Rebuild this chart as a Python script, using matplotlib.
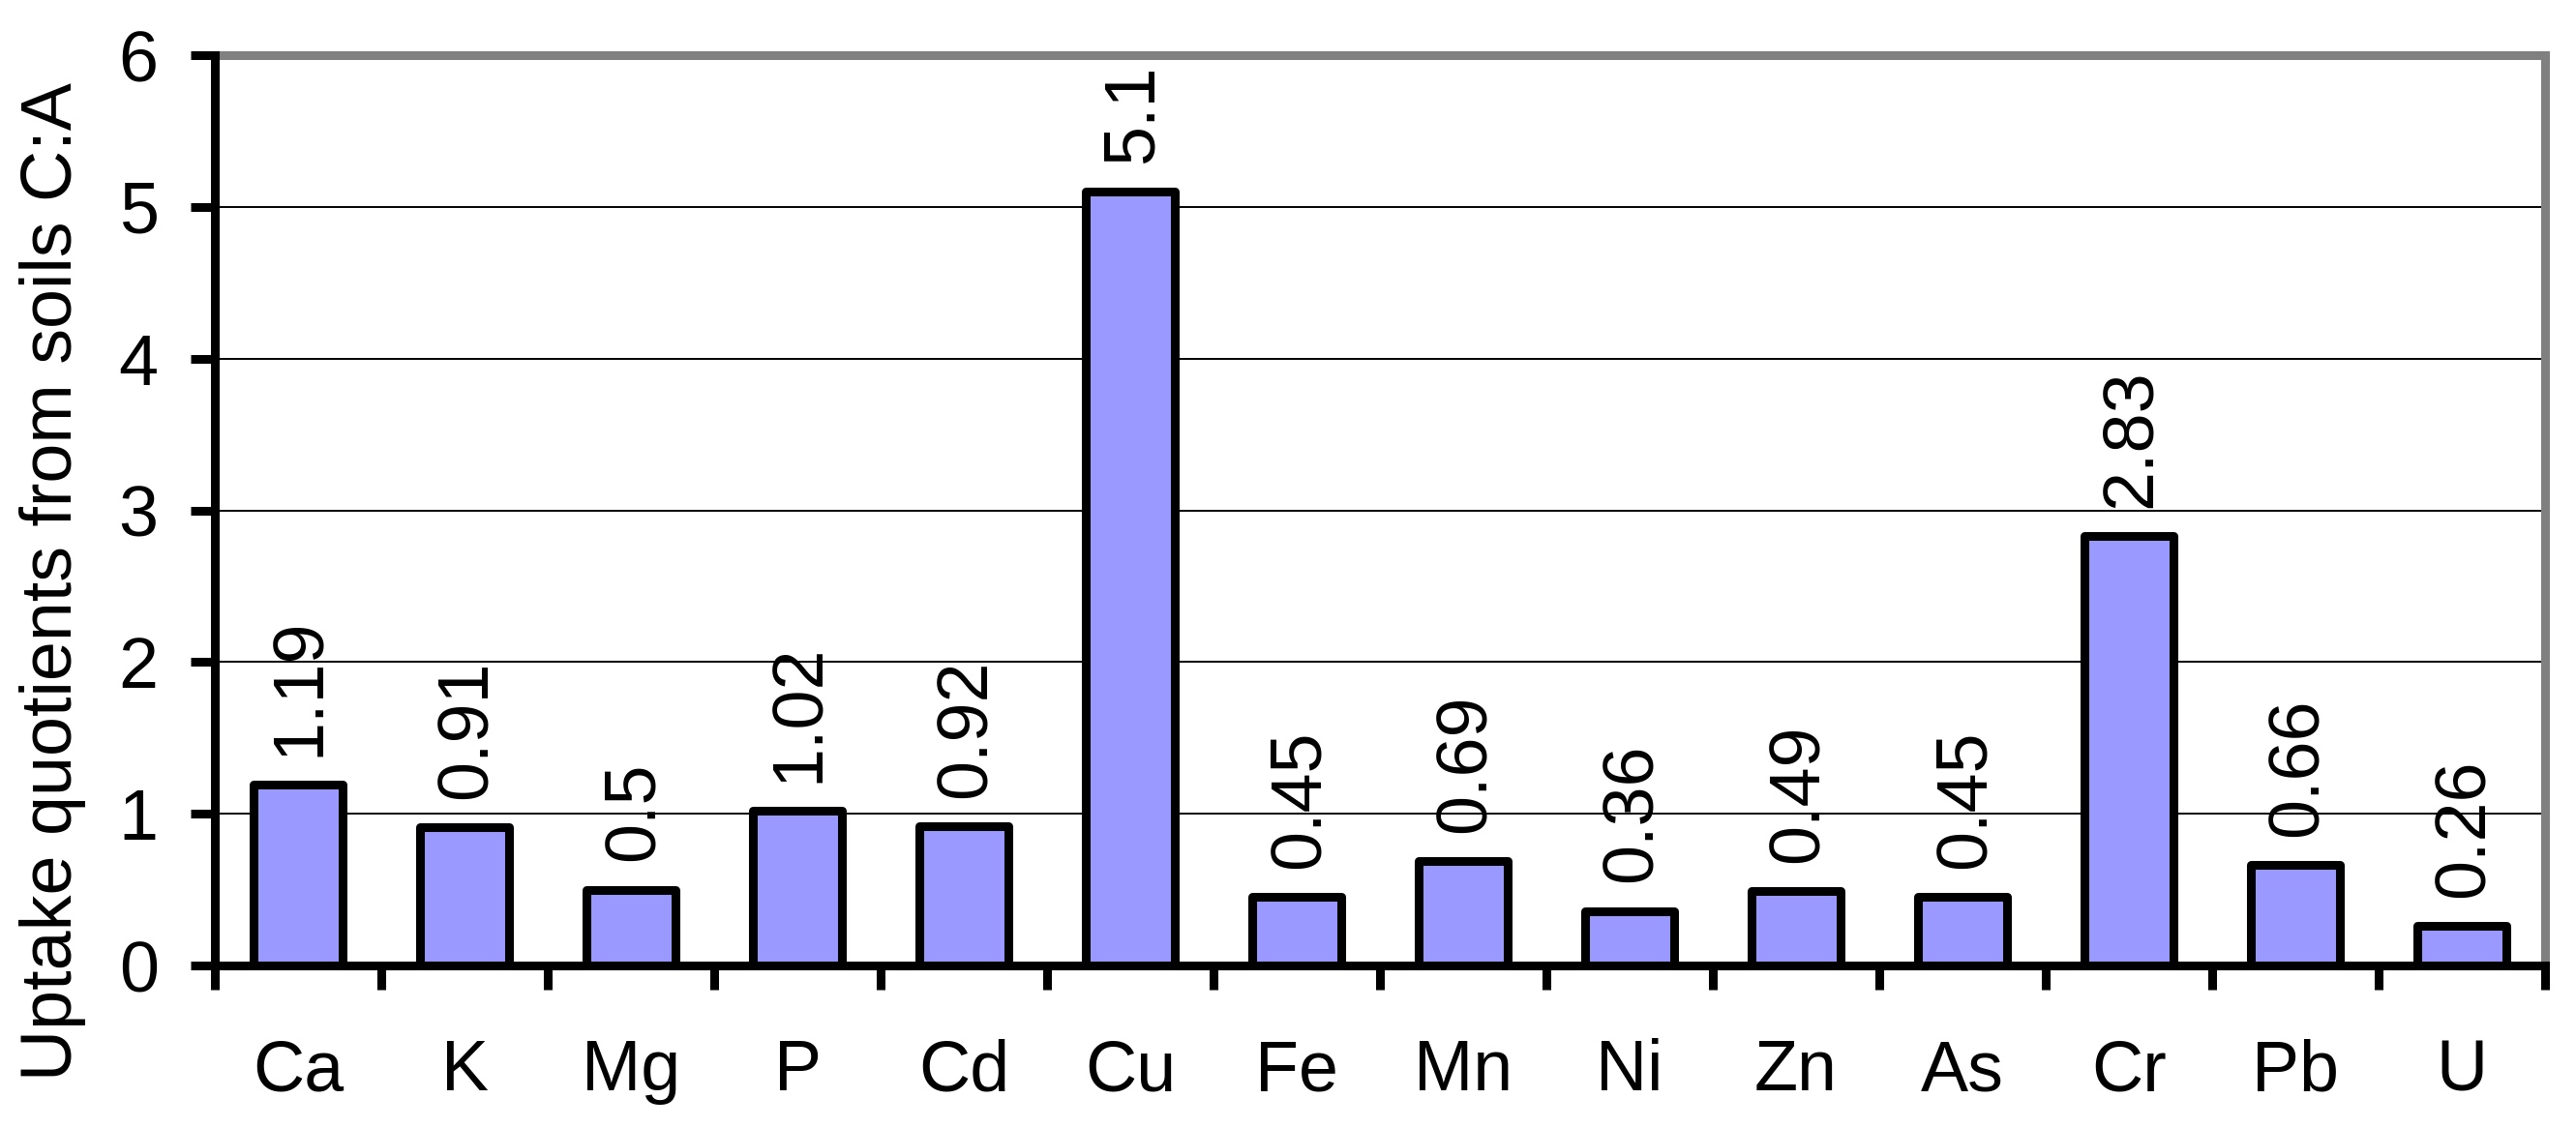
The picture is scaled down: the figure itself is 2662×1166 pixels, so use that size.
import matplotlib
matplotlib.use("Agg")
import matplotlib.pyplot as plt
import numpy as np

categories = ["Ca", "K", "Mg", "P", "Cd", "Cu", "Fe", "Mn", "Ni", "Zn", "As", "Cr", "Pb", "U"]
values = [1.19, 0.91, 0.5, 1.02, 0.92, 5.1, 0.45, 0.69, 0.36, 0.49, 0.45, 2.83, 0.66, 0.26]
value_labels = ["1.19", "0.91", "0.5", "1.02", "0.92", "5.1", "0.45", "0.69", "0.36", "0.49", "0.45", "2.83", "0.66", "0.26"]
y_ticks = [0, 1, 2, 3, 4, 5, 6]
y_label = "Uptake quotients from soils C:A"

plt.rcParams['font.family'] = ['Liberation Sans', 'DejaVu Sans']
FS = 53

fig = plt.figure(figsize=(26.62, 11.66), dpi=100)
ax = fig.add_axes([222 / 2662, 1 - 998 / 1166, (2630 - 222) / 2662, (998 - 57) / 1166])

x = np.arange(len(categories))
ax.bar(x, values, width=0.54, color="#9999FF", edgecolor="black", linewidth=6.5,
       zorder=3, joinstyle="round")

for xi, v, lab in zip(x, values, value_labels):
    ax.annotate(lab, (xi, v), xytext=(16, 21), textcoords="offset points",
                rotation=90, rotation_mode="anchor", ha="left", va="baseline",
                fontsize=FS, zorder=4)

ax.set_xlim(-0.5, len(categories) - 0.5)
ax.set_ylim(0, 6)
ax.set_yticks(y_ticks)
ax.set_yticklabels([str(t) for t in y_ticks])
ax.yaxis.grid(True, color="black", linewidth=1.4, zorder=0)
ax.set_axisbelow(True)

ax.set_xticks(x)
ax.set_xticklabels(categories)
ax.set_xticks(np.arange(-0.5, len(categories)), minor=True)
ax.tick_params(axis="x", which="major", length=0, pad=54, labelsize=FS)
ax.tick_params(axis="x", which="minor", length=18, width=6.5, direction="out", color="black")
ax.tick_params(axis="y", which="major", length=18, width=6.5, direction="out", pad=24, labelsize=FS)

for s in ["left", "bottom"]:
    ax.spines[s].set_color("black")
    ax.spines[s].set_linewidth(6.5)
    ax.spines[s].set_zorder(5)
for s in ["top", "right"]:
    ax.spines[s].set_color("#808080")
    ax.spines[s].set_linewidth(6.5)

fig.text(55 / 2662, 1 - 601 / 1166, y_label, rotation=90, ha="center", va="center", fontsize=FS)

fig.savefig("out.png", dpi=100)
